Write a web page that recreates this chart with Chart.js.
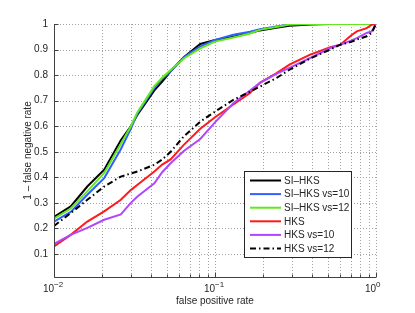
<!DOCTYPE html>
<html>
<head>
<meta charset="utf-8">
<script src="https://cdn.jsdelivr.net/npm/chart.js@4.4.1/dist/chart.umd.min.js"></script>
<style>
html, body { margin: 0; padding: 0; background: #fff; }
</style>
</head>
<body>
<canvas id="roc" width="415" height="313"></canvas>
<script>
// false positive rate (x, log scale) shared by every curve
const fpr = [0.01, 0.0127, 0.0161, 0.0205, 0.026, 0.03, 0.033, 0.042, 0.047, 0.053, 0.064, 0.081, 0.1,
             0.13, 0.165, 0.19, 0.24, 0.29, 0.39, 0.52, 0.6, 0.7, 0.76, 0.875, 0.94, 1.0];

// 1 - false negative rate for each method
const siHks     = [0.245, 0.286, 0.364, 0.43, 0.545, 0.60, 0.645, 0.74, 0.775, 0.815, 0.87, 0.922, 0.937,
                   0.95, 0.965, 0.975, 0.985, 0.993, 0.998, 1, 1, 1, 1, 1, 1, 1];
const siHks10   = [0.227, 0.265, 0.332, 0.397, 0.51, 0.59, 0.65, 0.75, 0.785, 0.815, 0.87, 0.912, 0.938,
                   0.958, 0.97, 0.98, 0.99, 0.998, 1, 1, 1, 1, 1, 1, 1, 1];
const siHks12   = [0.238, 0.278, 0.345, 0.417, 0.53, 0.60, 0.655, 0.757, 0.79, 0.82, 0.865, 0.905, 0.931,
                   0.947, 0.963, 0.977, 0.988, 0.998, 1, 1, 1, 1, 1, 1, 1, 1];
const hks       = [0.13, 0.175, 0.227, 0.267, 0.312, 0.35, 0.371, 0.423, 0.45, 0.47, 0.527, 0.59, 0.635,
                   0.685, 0.73, 0.77, 0.807, 0.841, 0.88, 0.909, 0.919, 0.955, 0.971, 0.984, 0.997, 1.0];
const hks10     = [0.14, 0.175, 0.202, 0.234, 0.255, 0.30, 0.325, 0.377, 0.42, 0.455, 0.503, 0.55, 0.615,
                   0.69, 0.74, 0.77, 0.805, 0.828, 0.867, 0.906, 0.919, 0.935, 0.945, 0.965, 0.971, 1.0];
const hks12     = [0.21, 0.26, 0.312, 0.364, 0.403, 0.415, 0.423, 0.449, 0.47, 0.50, 0.56, 0.618, 0.657,
                   0.703, 0.735, 0.755, 0.788, 0.821, 0.865, 0.90, 0.919, 0.93, 0.939, 0.952, 0.965, 1.0];

const seriesNames = ['SI–HKS', 'SI–HKS vs=10', 'SI–HKS vs=12', 'HKS', 'HKS vs=10', 'HKS vs=12'];

// axis ticks
const yTicks = [0.1, 0.2, 0.3, 0.4, 0.5, 0.6, 0.7, 0.8, 0.9, 1];
const xMajor = [0.01, 0.1, 1];
const xExpo  = ['−2', '−1', '0'];
const xMinor = [0.02, 0.03, 0.04, 0.05, 0.06, 0.07, 0.08, 0.09, 0.2, 0.3, 0.4, 0.5, 0.6, 0.7, 0.8, 0.9];

const FONT = '"Liberation Sans", Arial, Helvetica, sans-serif';
const TXT = '#262626';

const colors = ['#000000', '#3060ff', '#62e81c', '#ff1a1a', '#b046ff', '#000000'];
const dashes = [[], [], [], [], [], [6, 3, 1.5, 3]];
const allY = [siHks, siHks10, siHks12, hks, hks10, hks12];

function pts(ys) {
    return fpr.map((x, i) => ({ x: x, y: ys[i] }));
}

const datasets = allY.map((ys, i) => ({
    label: seriesNames[i],
    data: pts(ys),
    borderColor: colors[i],
    borderDash: dashes[i],
    borderWidth: 2,
    pointRadius: 0,
    tension: 0,
    fill: false,
    order: allY.length - i   // later series drawn on top, as in the original
}));

function line(ctx, x1, y1, x2, y2) {
    ctx.beginPath();
    ctx.moveTo(x1, y1);
    ctx.lineTo(x2, y2);
    ctx.stroke();
}

const matlabLook = {
    id: 'matlabLook',
    beforeDatasetsDraw(chart) {
        const { ctx, chartArea: a, scales: { x, y } } = chart;
        ctx.save();
        ctx.strokeStyle = '#a2a2a2';
        ctx.lineWidth = 1;
        ctx.setLineDash([1, 2]);
        for (const v of xMajor.concat(xMinor)) {
            const px = Math.round(x.getPixelForValue(v)) + 0.5;
            line(ctx, px, a.top, px, a.bottom);
        }
        for (const v of yTicks) {
            const py = Math.round(y.getPixelForValue(v)) + 0.5;
            line(ctx, a.left, py, a.right, py);
        }
        ctx.restore();
    },
    afterDatasetsDraw(chart) {
        const { ctx, chartArea: a, scales: { x, y } } = chart;
        ctx.save();

        // axis lines and inward tick marks
        ctx.strokeStyle = '#404040';
        ctx.lineWidth = 1;
        const L = Math.round(a.left) + 0.5, B = Math.round(a.bottom) + 0.5;
        line(ctx, L, a.top, L, B);
        line(ctx, L, B, a.right, B);
        for (const v of yTicks) {
            const py = Math.round(y.getPixelForValue(v)) + 0.5;
            line(ctx, L, py, L + 4, py);
        }
        for (const v of xMajor) {
            const px = Math.round(x.getPixelForValue(v)) + 0.5;
            line(ctx, px, B, px, B - 5);
        }
        for (const v of xMinor) {
            const px = Math.round(x.getPixelForValue(v)) + 0.5;
            line(ctx, px, B, px, B - 3);
        }

        // x tick labels 10^n
        ctx.fillStyle = TXT;
        ctx.textBaseline = 'alphabetic';
        xMajor.forEach((v, i) => {
            const px = x.getPixelForValue(v);
            ctx.font = '10px ' + FONT;
            ctx.textAlign = 'right';
            ctx.fillText('10', px, a.bottom + 15);
            ctx.font = '8px ' + FONT;
            ctx.textAlign = 'left';
            ctx.fillText(xExpo[i], px, a.bottom + 10);
        });

        // axis titles
        ctx.font = '10px ' + FONT;
        ctx.textAlign = 'center';
        ctx.textBaseline = 'middle';
        ctx.fillText('false positive rate', (a.left + a.right) / 2, a.bottom + 24);
        ctx.save();
        ctx.translate(28, (a.top + a.bottom) / 2);
        ctx.rotate(-Math.PI / 2);
        ctx.fillText('1 – false negative rate', 0, 0);
        ctx.restore();

        // legend box, bottom right inside the axes
        const bx = a.right - 132, by = a.bottom - 106, bw = 107, bh = 86;
        ctx.fillStyle = '#fff';
        ctx.fillRect(bx, by, bw, bh);
        ctx.strokeStyle = '#262626';
        ctx.lineWidth = 1;
        ctx.strokeRect(bx + 0.5, by + 0.5, bw, bh);
        chart.data.datasets.forEach((ds, i) => {
            const ry = by + 9.5 + i * 13.6;
            ctx.strokeStyle = ds.borderColor;
            ctx.lineWidth = 2;
            ctx.setLineDash(ds.borderDash);
            line(ctx, bx + 6, ry, bx + 37, ry);
            ctx.setLineDash([]);
            ctx.fillStyle = TXT;
            ctx.font = '10px ' + FONT;
            ctx.textAlign = 'left';
            ctx.textBaseline = 'middle';
            ctx.fillText(ds.label, bx + 40, ry + 0.5);
        });

        ctx.restore();
    }
};

new Chart(document.getElementById('roc'), {
    type: 'line',
    data: { datasets: datasets },
    plugins: [matlabLook],
    options: {
        responsive: false,
        animation: false,
        devicePixelRatio: 1,
        layout: { padding: { top: 24, right: 39, left: 0, bottom: 0 } },
        plugins: { legend: { display: false }, tooltip: { enabled: false } },
        scales: {
            x: {
                type: 'logarithmic',
                min: 0.01,
                max: 1,
                grid: { display: false, drawTicks: false },
                border: { display: false },
                ticks: { display: false },
                afterFit: s => { s.height = 36; }
            },
            y: {
                type: 'linear',
                min: 0.01,
                max: 1,
                grid: { display: false, drawTicks: false },
                border: { display: false },
                afterBuildTicks: s => { s.ticks = yTicks.map(v => ({ value: v })); },
                ticks: {
                    padding: 6,
                    color: TXT,
                    font: { family: FONT, size: 10 },
                    callback: v => String(v)
                },
                afterFit: s => { s.width = 54; }
            }
        }
    }
});
</script>
</body>
</html>
